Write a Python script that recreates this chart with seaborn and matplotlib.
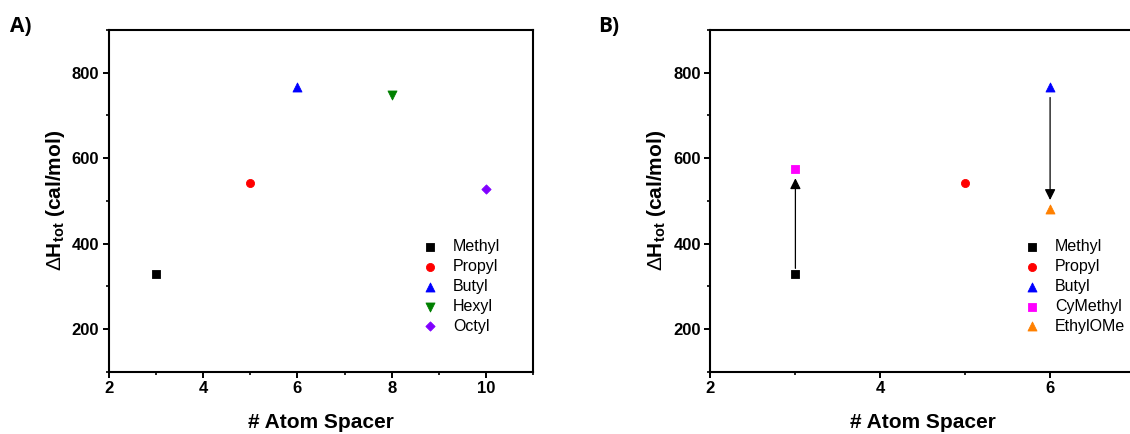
import matplotlib
matplotlib.use("Agg")
import matplotlib.pyplot as plt
import seaborn as sns
import pandas as pd
from matplotlib.ticker import MultipleLocator

# ---- data -------------------------------------------------------------
spacer_a = [3, 5, 6, 8, 10]
dh_a = [329, 542, 766, 747, 528]
names_a = ["Methyl", "Propyl", "Butyl", "Hexyl", "Octyl"]

spacer_b = [3, 5, 6, 3, 6]
dh_b = [329, 542, 766, 574, 482]
names_b = ["Methyl", "Propyl", "Butyl", "CyMethyl", "EthylOMe"]

# arrows in panel B: (x, start, end)
arrow_x = [3, 6]
arrow_from = [342, 742]
arrow_to = [553, 502]

# ---- styling per substituent ------------------------------------------
colors = {"Methyl": "#000000", "Propyl": "#FF0000", "Butyl": "#0000FF",
          "Hexyl": "#008000", "Octyl": "#8000FF",
          "CyMethyl": "#FF00FF", "EthylOMe": "#FF8000"}
markers = {"Methyl": "s", "Propyl": "o", "Butyl": "^", "Hexyl": "v",
           "Octyl": "D", "CyMethyl": "s", "EthylOMe": "^"}
areas = {"Methyl": 30, "Propyl": 34, "Butyl": 42, "Hexyl": 42,
         "Octyl": 22, "CyMethyl": 30, "EthylOMe": 42}

sns.set_style("ticks")
plt.rcParams["font.family"] = ["Liberation Sans", "DejaVu Sans"]
plt.rcParams["mathtext.fontset"] = "custom"
plt.rcParams["mathtext.rm"] = "Liberation Sans:bold"
plt.rcParams["mathtext.it"] = "Liberation Sans:bold"
plt.rcParams["mathtext.bf"] = "Liberation Sans:bold"
plt.rcParams["mathtext.sf"] = "Liberation Sans"
for key in ["text.color", "axes.labelcolor", "xtick.color", "ytick.color",
            "axes.edgecolor"]:
    plt.rcParams[key] = "black"

fig = plt.figure(figsize=(11.3, 4.34), dpi=100)
ax_a = fig.add_axes([0.09646, 0.1435, 0.37522, 0.7873])
ax_b = fig.add_axes([0.62876, 0.1435, 0.37566, 0.7873])


def draw_panel(ax, xs, ys, names, xlim, xticks, legend_x):
    df = pd.DataFrame({"spacer": xs, "dh": ys, "name": names})
    for _, row in df.iterrows():
        n = row["name"]
        sns.scatterplot(x=[row["spacer"]], y=[row["dh"]], ax=ax,
                        color=colors[n], marker=markers[n], s=areas[n],
                        edgecolor=colors[n], linewidth=0.6, label=n,
                        zorder=3)
    ax.set_xlim(*xlim)
    ax.set_ylim(100, 900)
    ax.set_xticks(xticks)
    ax.set_yticks([200, 400, 600, 800])
    ax.xaxis.set_minor_locator(MultipleLocator(1))
    ax.yaxis.set_minor_locator(MultipleLocator(100))
    ax.tick_params(which="major", direction="out", length=4, width=1.4,
                   pad=3, labelsize=12)
    ax.tick_params(which="minor", direction="out", length=2.5, width=1.2)
    for lab in ax.get_xticklabels() + ax.get_yticklabels():
        lab.set_fontweight("bold")
    for sp in ax.spines.values():
        sp.set_linewidth(1.5)
        sp.set_color("black")
    ax.set_xlabel("# Atom Spacer", fontsize=15, fontweight="bold")
    ax.set_ylabel(r"$\mathsf{\Delta}$H$_{\mathrm{tot}}$ (cal/mol)",
                  fontsize=15, fontweight="bold")
    ax.xaxis.set_label_coords(0.5, -0.12)
    ax.yaxis.set_label_coords(-0.100, 0.5)
    ax.legend(loc="upper left", bbox_to_anchor=(legend_x, 0.387),
              frameon=False, fontsize=11.5, handlelength=1.0,
              handletextpad=0.95, labelspacing=0.30, borderpad=0,
              borderaxespad=0, markerscale=1.0)


draw_panel(ax_a, spacer_a, dh_a, names_a, (2, 11), [2, 4, 6, 8, 10], 0.738)
draw_panel(ax_b, spacer_b, dh_b, names_b, (2, 7), [2, 4, 6], 0.7385)
ax_b.spines["right"].set_visible(False)

for x, y0, y1 in zip(arrow_x, arrow_from, arrow_to):
    ax_b.annotate("", xy=(x, y1), xytext=(x, y0),
                  arrowprops=dict(arrowstyle="-|>", color="black", lw=0.9,
                                  mutation_scale=16, shrinkA=0, shrinkB=0),
                  zorder=2)

fig.text(0.009, 0.963, "A)", fontsize=15, fontweight="bold",
         family=["Open Sans", "DejaVu Sans"], va="top", ha="left")
fig.text(0.529, 0.963, "B)", fontsize=15, fontweight="bold",
         family=["Open Sans", "DejaVu Sans"], va="top", ha="left")

fig.savefig("out.png", dpi=100)
